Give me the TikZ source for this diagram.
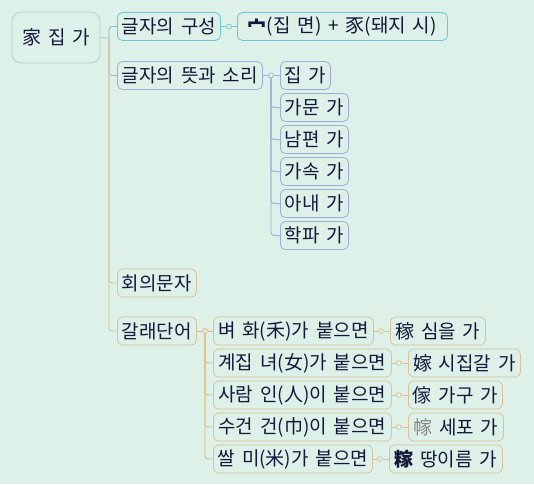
\documentclass[tikz,border=0pt]{standalone}
\usepackage{fontspec}
\setmainfont[WordSpace=1.6]{Noto Sans CJK KR}
\usetikzlibrary{positioning}
\definecolor{mapBg}{HTML}{DDF1E8}
\definecolor{textInk}{HTML}{15183A}
\definecolor{rootBorder}{HTML}{B9CAD0}
\definecolor{cyanLine}{HTML}{6CC6D8}
\definecolor{blueLine}{HTML}{9AAFD9}
\definecolor{tanLine}{HTML}{D9C299}
\definecolor{orangeLine}{HTML}{E2B778}
\tikzset{
rootbox/.style={rectangle, rounded corners=9pt, draw=rootBorder, fill=mapBg, text=textInk, minimum width=88pt, minimum height=51pt, line width=0.8pt, font=\fontsize{19}{19}\selectfont},
topicbox/.style={rectangle, rounded corners=5pt, draw, fill=mapBg, text=textInk, minimum height=28pt, inner xsep=3pt, inner ysep=0pt, anchor=west, line width=0.8pt, font=\fontsize{19}{19}\selectfont},
wd/.style={minimum width=#1},
knot/.style={circle, draw, fill=mapBg, minimum size=5pt, inner sep=0pt, line width=0.7pt},
link/.style={line width=0.9pt, rounded corners=3pt}
}

\begin{document}
\begin{tikzpicture}[x=1pt, y=-1pt]
\fill [mapBg] (0,0) rectangle (534,484);
\useasboundingbox (0,0) rectangle (534,484);

% root and first level
\node [rootbox] (root) at (56,37.5) {家 집 가};
\coordinate (hub) at (109,38);
\node [topicbox, draw=cyanLine, wd=103pt] (make) at (117,26.5) {글자의 구성};
\node [topicbox, draw=blueLine, wd=145pt] (sense) at (117,75.5) {글자의 뜻과 소리};
\node [topicbox, draw=tanLine, wd=79pt] (idea) at (117,283) {회의문자};
\node [topicbox, draw=tanLine, wd=79pt] (kind) at (117,331) {갈래단어};

\draw [link, rootBorder] (root.east) -- (hub);
\draw [link, cyanLine] (hub) |- (make.west);
\draw [link, blueLine] (hub) |- (sense.west);
\draw [link, tanLine] (hub) |- (idea.west);
\draw [link, tanLine] (hub) |- (kind.west);

% make-up of the letter
\node [knot, draw=cyanLine] (makeknot) at (229,26.5) {};
\node [topicbox, draw=cyanLine, wd=210pt] (makeparts) at (237,26.5) {\textbf{宀}(집 면) + 豕(돼지 시)};
\draw [link, cyanLine] (make.east) -- (makeknot.west);
\draw [link, cyanLine] (makeknot.east) -- (makeparts.west);

% meanings
\node [knot, draw=blueLine] (senseknot) at (271,75.5) {};
\draw [link, blueLine] (sense.east) -- (senseknot.west);
\foreach \txt/\w [count=\i from 0] in {집 가/50, 가문 가/68, 남편 가/68, 가속 가/68, 아내 가/68, 학파 가/68}
{
  \node [topicbox, draw=blueLine, wd=\w pt] (sense\i) at (280, 75.5+32*\i) {\txt};
}
\draw [link, blueLine] (senseknot.east) -- (sense0.west);
\foreach \i in {1,...,5}
  \draw [link, blueLine] (senseknot.south) |- (sense\i.west);

% related words
\node [knot, draw=orangeLine] (kindknot) at (205,331) {};
\draw [link, orangeLine] (kind.east) -- (kindknot.west);
\foreach \cond/\cw/\word/\ww [count=\i from 0] in {
  {벼 화(禾)가 붙으면}/160/{稼 심을 가}/95,
  {계집 녀(女)가 붙으면}/178/{嫁 시집갈 가}/112,
  {사람 인(人)이 붙으면}/178/{傢 가구 가}/94,
  {수건 건(巾)이 붙으면}/178/{{\color{gray}幏} 세포 가}/95,
  {쌀 미(米)가 붙으면}/159/{\textbf{糘} 땅이름 가}/113}
{
  \node [topicbox, draw=tanLine, wd=\cw pt] (kind\i) at (213, 331+32*\i) {\cond};
  \node [knot, draw=tanLine, right=4pt of kind\i] (wordknot\i) {};
  \node [topicbox, draw=tanLine, wd=\ww pt, right=6.5pt of wordknot\i] (word\i) {\word};
  \draw [link, tanLine] (kind\i.east) -- (wordknot\i.west);
  \draw [link, tanLine] (wordknot\i.east) -- (word\i.west);
}
\draw [link, orangeLine] (kindknot.east) -- (kind0.west);
\foreach \i in {1,...,4}
  \draw [link, orangeLine] (kindknot.south) |- (kind\i.west);
\end{tikzpicture}
\end{document}
